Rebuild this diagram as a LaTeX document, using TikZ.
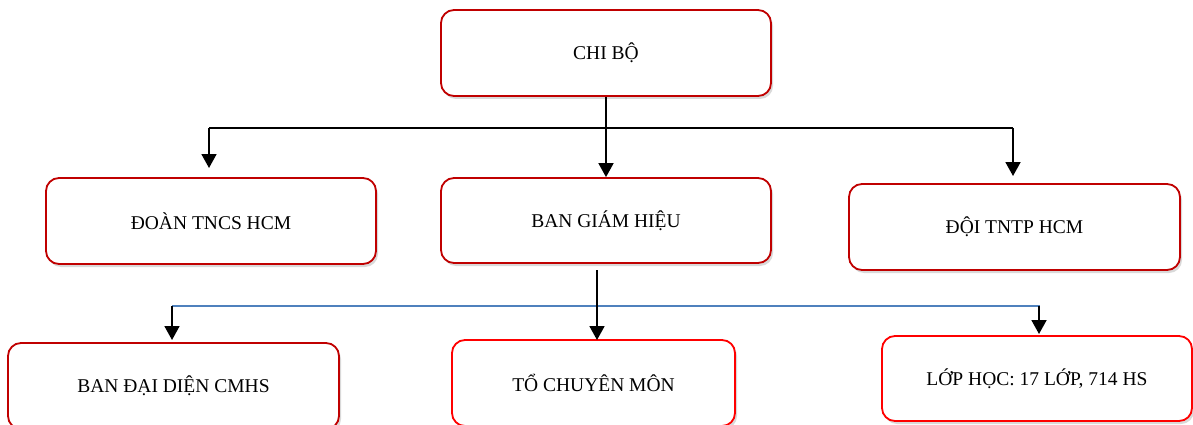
\documentclass[tikz,border=0pt]{standalone}
\usepackage{fontspec}
\setmainfont{Liberation Serif}
\usetikzlibrary{arrows.meta,shadows}
\definecolor{boxred}{HTML}{C00000}
\definecolor{brightred}{HTML}{FF0000}
\definecolor{lineblue}{HTML}{4F81BD}
\begin{document}
\begin{tikzpicture}[x=1pt, y=-1pt,
  main/.style = {draw=boxred, line width=1.8pt, rounded corners=13pt, fill=white,
    minimum width=330pt, minimum height=86pt, font=\fontsize{19.5}{22}\selectfont,
    drop shadow={shadow xshift=2pt, shadow yshift=-3pt, opacity=0.25, fill=black!60}},
  arr/.style = {line width=1.8pt, -{Triangle[width=15pt,length=14pt]}}]
\useasboundingbox (0,0) rectangle (1193,425);

\node[main] (1) at (606,53) {CHI BỘ};
\node[main] (2) at (211,221) {ĐOÀN TNCS HCM};
\node[main, minimum height=85pt] (3) at (606,220.5) {BAN GIÁM HIỆU};
\node[main, minimum width=331pt] (4) at (1014.5,227) {ĐỘI TNTP HCM};
\node[main, minimum width=331pt] (5) at (173.5,386) {BAN ĐẠI DIỆN CMHS};
\node[main, draw=brightred, minimum width=283pt] (6) at (593.5,383) {TỔ CHUYÊN MÔN};
\node[main, draw=brightred, minimum width=310pt, minimum height=85pt] (7) at (1037,378.5) {LỚP HỌC: 17 LỚP, 714 HS};

% top level
\coordinate (l1) at (209,128);
\coordinate (r1) at (1013,128);
\coordinate (l1e) at (209,168);
\coordinate (r1e) at (1013,176);
\draw[line width=1.8pt] (l1) -- (r1);
\draw[arr] (1) -- (3);
\draw[arr] (l1) -- (l1e);
\draw[arr] (r1) -- (r1e);

% second level
\coordinate (m2) at (597,270);
\coordinate (m2e) at (597,340);
\coordinate (l2) at (172,306);
\coordinate (r2) at (1040,306);
\coordinate (l2e) at (172,340);
\coordinate (r2e) at (1039,334);
\draw[lineblue, line width=1.5pt] (l2) -- (r2);
\draw[arr] (m2) -- (m2e);
\draw[arr] (l2) -- (l2e);
\draw[arr] (r2 -| r2e) -- (r2e);
\end{tikzpicture}
\end{document}
